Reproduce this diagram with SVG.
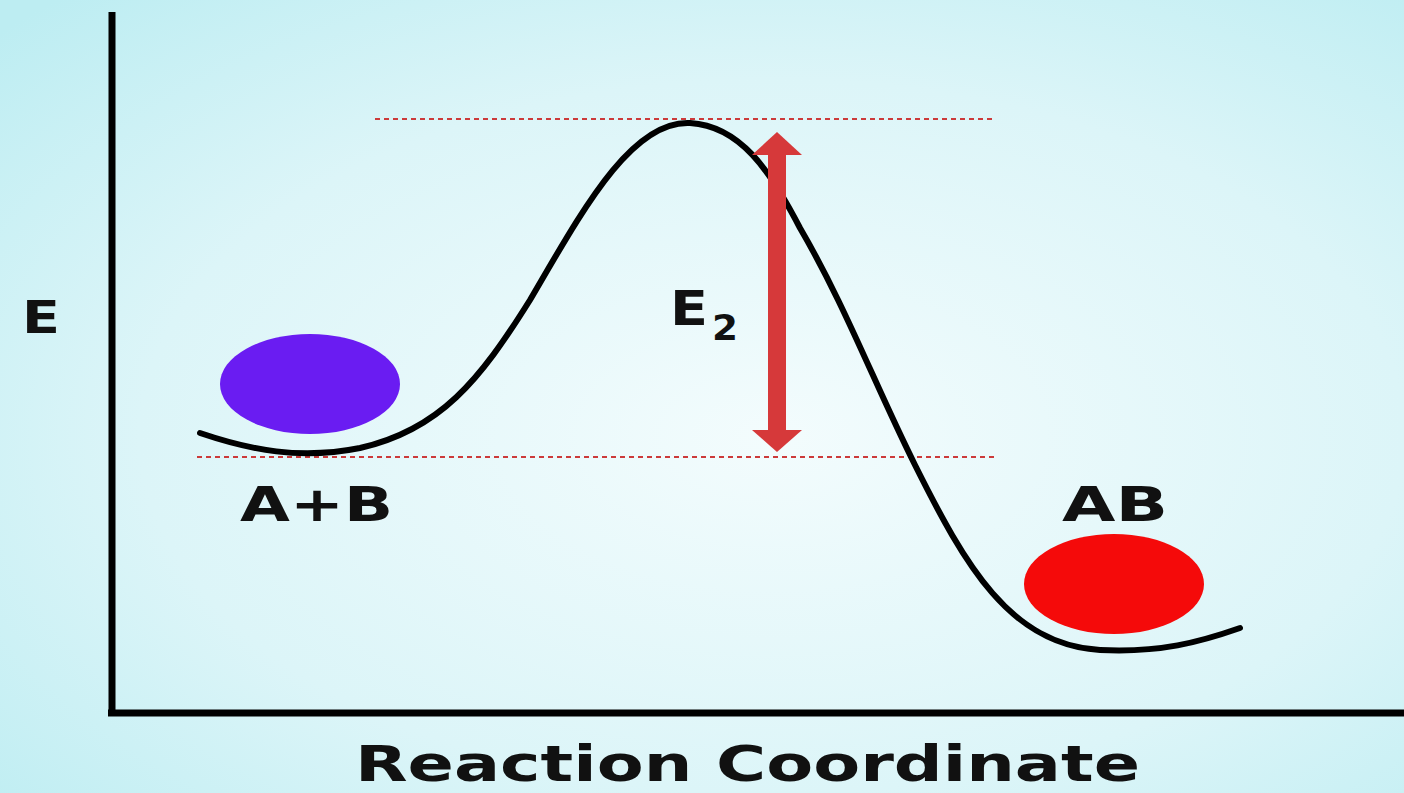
<svg xmlns="http://www.w3.org/2000/svg" width="1404" height="793" viewBox="0 0 1404 793">
<defs>
<radialGradient id="bg" cx="0.55" cy="0.55" r="0.75">
<stop offset="0" stop-color="#f3fcfd"/>
<stop offset="0.6" stop-color="#dcf5f8"/>
<stop offset="1" stop-color="#bdedf2"/>
</radialGradient>
<style>
.lbl{font-family:"DejaVu Sans",Verdana,sans-serif;font-weight:bold;fill:#111}
.dash{stroke:#cc3a3a;stroke-width:2;stroke-dasharray:5 4;fill:none}
.axis{stroke:#000;stroke-width:7;fill:none}
</style>
</defs>
<rect width="1404" height="793" fill="url(#bg)"/>
<g id="axes">
<line class="axis" x1="112" y1="12" x2="112" y2="716"/>
<line class="axis" x1="108" y1="713" x2="1404" y2="713"/>
</g>
<g id="guides">
<line class="dash" x1="375" y1="119" x2="995" y2="119"/>
<line class="dash" x1="197" y1="457" x2="995" y2="457"/>
</g>
<g id="curve">
<path d="M200,433 C250,450 300,460 360,448 C440,430 480,380 530,300 C580,215 630,120 690,123 C740,126 770,170 800,228 C845,305 875,385 915,465 C965,565 1010,645 1100,650 C1160,653 1200,642 1240,628" fill="none" stroke="#000" stroke-width="6" stroke-linecap="round"/>
</g>
<g id="reactant">
<ellipse cx="310" cy="384" rx="90" ry="50" fill="#6a1cf2"/>
<text class="lbl" x="240" y="521" font-size="48" textLength="153" lengthAdjust="spacingAndGlyphs">A+B</text>
</g>
<g id="product">
<ellipse cx="1114" cy="584" rx="90" ry="50" fill="#f50a0a"/>
<text class="lbl" x="1062" y="521" font-size="48" textLength="106" lengthAdjust="spacingAndGlyphs">AB</text>
</g>
<g id="activation">
<rect x="768" y="150" width="18" height="288" fill="#d6393a"/>
<polygon points="777,132 802,155 752,155" fill="#d6393a"/>
<polygon points="777,452 802,430 752,430" fill="#d6393a"/>
<text class="lbl" x="670" y="325" font-size="48" textLength="38" lengthAdjust="spacingAndGlyphs">E</text>
<text class="lbl" x="712" y="340" font-size="36" textLength="26" lengthAdjust="spacingAndGlyphs">2</text>
</g>
<g id="labels">
<text class="lbl" x="22" y="333" font-size="45" textLength="38" lengthAdjust="spacingAndGlyphs">E</text>
<text class="lbl" x="355" y="781" font-size="50" textLength="785" lengthAdjust="spacingAndGlyphs">Reaction Coordinate</text>
</g>
</svg>
